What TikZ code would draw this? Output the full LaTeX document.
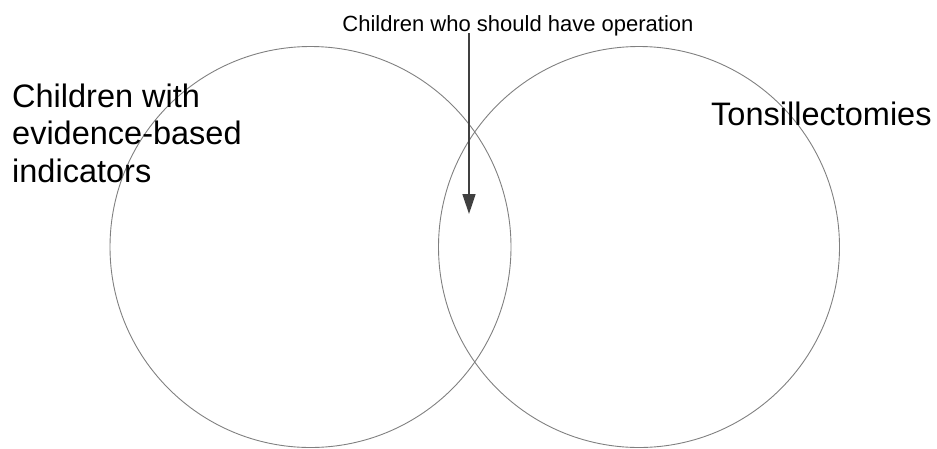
\documentclass[tikz,border=0pt]{standalone}
\usepackage{fontspec}
\setmainfont{Liberation Sans}
\usetikzlibrary{arrows.meta}

\begin{document}
\begin{tikzpicture}[x=1pt, y=-1pt,
    set/.style={circle, draw=black!50, line width=0.9pt, minimum size=401pt, inner sep=0pt},
    biglabel/.style={font=\fontsize{32.5}{37.5}\selectfont, inner sep=0pt},
    pointer/.style={-{Triangle[length=20pt, width=13pt]}, line width=1.5pt, draw=black!75}]

    % --- Canvas ---
    \useasboundingbox (0, 0) rectangle (937, 448);

    % --- Sets ---
    \node[set] (indicated) at (310.5, 247) {};
    \node[set] (operated) at (639, 247) {};

    % --- Set labels ---
    % base of a multi-line node sits on its last line
    \node[biglabel, anchor=base west, align=left] (indicatedlabel) at (12, 182)
        {Children with\\evidence-based\\indicators};
    \node[biglabel, anchor=base west] (operatedlabel) at (711, 125) {Tonsillectomies};

    % --- Overlap label and arrow ---
    \node[font=\fontsize{22}{24}\selectfont, anchor=base, inner sep=0pt] (overlap) at (518, 31)
        {Children who should have operation};
    \coordinate (overlaptip) at (469, 214);
    \draw[pointer] (overlap.south -| overlaptip) ++(0, -3) -- (overlaptip);

\end{tikzpicture}
\end{document}
